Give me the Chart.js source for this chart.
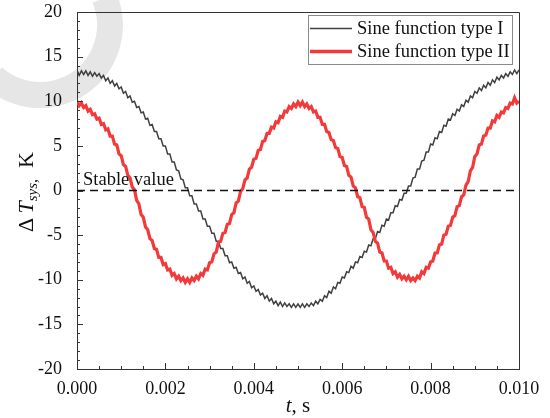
<!DOCTYPE html>
<html>
<head>
<meta charset="utf-8">
<script src="https://cdn.jsdelivr.net/npm/chart.js@4.4.1/dist/chart.umd.min.js"></script>
<style>
  html, body { margin: 0; padding: 0; background: #fff; }
  canvas { display: block; }
</style>
</head>
<body>
<canvas id="chart" width="550" height="418"></canvas>
<script>
// ═══ data ═══
const times = [
    0.00000, 0.00005, 0.00010, 0.00015, 0.00020, 0.00025, 0.00030, 0.00035, 0.00040, 0.00045,
    0.00050, 0.00055, 0.00060, 0.00065, 0.00070, 0.00075, 0.00080, 0.00085, 0.00090, 0.00095,
    0.00100, 0.00105, 0.00110, 0.00115, 0.00120, 0.00125, 0.00130, 0.00135, 0.00140, 0.00145,
    0.00150, 0.00155, 0.00160, 0.00165, 0.00170, 0.00175, 0.00180, 0.00185, 0.00190, 0.00195,
    0.00200, 0.00205, 0.00210, 0.00215, 0.00220, 0.00225, 0.00230, 0.00235, 0.00240, 0.00245,
    0.00250, 0.00255, 0.00260, 0.00265, 0.00270, 0.00275, 0.00280, 0.00285, 0.00290, 0.00295,
    0.00300, 0.00305, 0.00310, 0.00315, 0.00320, 0.00325, 0.00330, 0.00335, 0.00340, 0.00345,
    0.00350, 0.00355, 0.00360, 0.00365, 0.00370, 0.00375, 0.00380, 0.00385, 0.00390, 0.00395,
    0.00400, 0.00405, 0.00410, 0.00415, 0.00420, 0.00425, 0.00430, 0.00435, 0.00440, 0.00445,
    0.00450, 0.00455, 0.00460, 0.00465, 0.00470, 0.00475, 0.00480, 0.00485, 0.00490, 0.00495,
    0.00500, 0.00505, 0.00510, 0.00515, 0.00520, 0.00525, 0.00530, 0.00535, 0.00540, 0.00545,
    0.00550, 0.00555, 0.00560, 0.00565, 0.00570, 0.00575, 0.00580, 0.00585, 0.00590, 0.00595,
    0.00600, 0.00605, 0.00610, 0.00615, 0.00620, 0.00625, 0.00630, 0.00635, 0.00640, 0.00645,
    0.00650, 0.00655, 0.00660, 0.00665, 0.00670, 0.00675, 0.00680, 0.00685, 0.00690, 0.00695,
    0.00700, 0.00705, 0.00710, 0.00715, 0.00720, 0.00725, 0.00730, 0.00735, 0.00740, 0.00745,
    0.00750, 0.00755, 0.00760, 0.00765, 0.00770, 0.00775, 0.00780, 0.00785, 0.00790, 0.00795,
    0.00800, 0.00805, 0.00810, 0.00815, 0.00820, 0.00825, 0.00830, 0.00835, 0.00840, 0.00845,
    0.00850, 0.00855, 0.00860, 0.00865, 0.00870, 0.00875, 0.00880, 0.00885, 0.00890, 0.00895,
    0.00900, 0.00905, 0.00910, 0.00915, 0.00920, 0.00925, 0.00930, 0.00935, 0.00940, 0.00945,
    0.00950, 0.00955, 0.00960, 0.00965, 0.00970, 0.00975, 0.00980, 0.00985, 0.00990, 0.00995,
    0.01000
];

const typeI = [
    13.5, 12.9, 13.4, 13.0, 13.4, 12.9, 13.3, 12.8, 13.2, 12.8,
    13.1, 12.6, 12.9, 12.3, 12.6, 12.0, 12.3, 11.7, 12.0, 11.4,
    11.6, 10.9, 11.1, 10.4, 10.6, 9.9, 10.0, 9.3, 9.4, 8.7,
    8.8, 8.0, 8.1, 7.3, 7.4, 6.6, 6.6, 5.8, 5.8, 5.0,
    5.0, 4.1, 4.1, 3.2, 3.2, 2.3, 2.2, 1.3, 1.2, 0.3,
    0.3, -0.6, -0.6, -1.5, -1.5, -2.3, -2.3, -3.2, -3.2, -4.0,
    -4.0, -4.8, -4.8, -5.7, -5.7, -6.5, -6.5, -7.3, -7.3, -8.1,
    -8.0, -8.7, -8.6, -9.3, -9.2, -9.9, -9.7, -10.4, -10.2, -10.9,
    -10.7, -11.3, -11.1, -11.7, -11.5, -12.1, -11.8, -12.4, -12.1, -12.7,
    -12.4, -12.9, -12.5, -13.0, -12.6, -13.0, -12.7, -13.1, -12.7, -13.1,
    -12.7, -13.1, -12.7, -13.1, -12.7, -13.0, -12.6, -12.9, -12.4, -12.7,
    -12.2, -12.4, -11.8, -12.0, -11.3, -11.5, -10.8, -11.0, -10.3, -10.4,
    -9.7, -9.8, -9.1, -9.2, -8.5, -8.7, -8.0, -8.1, -7.4, -7.5,
    -6.8, -6.9, -6.1, -6.2, -5.4, -5.4, -4.6, -4.7, -3.9, -4.0,
    -3.2, -3.3, -2.5, -2.5, -1.7, -1.8, -1.0, -1.1, -0.3, -0.3,
    0.5, 0.5, 1.4, 1.5, 2.4, 2.4, 3.3, 3.4, 4.3, 4.3,
    5.2, 5.1, 5.9, 5.8, 6.6, 6.5, 7.3, 7.2, 8.0, 7.9,
    8.6, 8.4, 9.1, 8.9, 9.6, 9.4, 10.1, 9.9, 10.6, 10.4,
    11.1, 10.9, 11.5, 11.2, 11.8, 11.5, 12.1, 11.8, 12.4, 12.1,
    12.7, 12.4, 12.9, 12.6, 13.1, 12.8, 13.3, 13.0, 13.5, 13.1,
    13.5
];

const typeII = [
    10.0, 9.5, 9.8, 9.3, 9.5, 8.9, 9.1, 8.5, 8.6, 8.0,
    8.1, 7.4, 7.5, 6.8, 6.9, 6.1, 6.1, 5.2, 5.1, 4.1,
    3.9, 2.9, 2.7, 1.7, 1.4, 0.4, 0.1, -1.1, -1.5, -2.7,
    -3.0, -4.1, -4.4, -5.4, -5.6, -6.5, -6.6, -7.5, -7.5, -8.3,
    -8.2, -8.9, -8.8, -9.5, -9.3, -9.9, -9.6, -10.1, -9.8, -10.3,
    -9.9, -10.3, -9.8, -10.1, -9.6, -9.9, -9.3, -9.5, -8.8, -8.9,
    -8.1, -8.0, -7.1, -6.9, -5.8, -5.7, -4.8, -4.7, -3.8, -3.7,
    -2.7, -2.5, -1.4, -1.2, -0.1, 0.2, 1.2, 1.4, 2.4, 2.6,
    3.5, 3.6, 4.5, 4.6, 5.5, 5.6, 6.4, 6.4, 7.1, 7.0,
    7.7, 7.6, 8.3, 8.2, 8.9, 8.8, 9.4, 9.2, 9.7, 9.4,
    9.9, 9.5, 9.9, 9.4, 9.7, 9.2, 9.4, 8.8, 8.9, 8.2,
    8.2, 7.4, 7.4, 6.6, 6.5, 5.7, 5.6, 4.8, 4.7, 3.8,
    3.7, 2.8, 2.7, 1.7, 1.5, 0.5, 0.3, -0.7, -0.8, -1.8,
    -1.9, -3.0, -3.2, -4.4, -4.7, -5.7, -5.9, -6.9, -7.0, -7.9,
    -7.9, -8.7, -8.6, -9.3, -9.1, -9.7, -9.4, -9.9, -9.6, -10.0,
    -9.6, -10.1, -9.8, -10.1, -9.6, -9.8, -9.1, -9.3, -8.6, -8.7,
    -8.0, -7.9, -7.0, -7.0, -6.1, -6.0, -5.0, -4.9, -4.0, -3.9,
    -3.0, -2.8, -1.8, -1.7, -0.7, -0.5, 0.6, 1.0, 2.2, 2.6,
    3.8, 4.1, 5.1, 5.2, 6.1, 6.2, 7.0, 7.0, 7.8, 7.7,
    8.4, 8.2, 8.8, 8.7, 9.3, 9.2, 9.8, 9.7, 10.4, 9.8,
    10.0
];

const stableTimes = [0.000, 0.010];
const stableValue = [0, 0];

const seriesNames = ['Sine function type I', 'Sine function type II'];
const stableLabel = 'Stable value';

// ═══ styles ═══
const SERIF   = '"Liberation Serif", "Times New Roman", serif';
const GREY    = '#404040';
const RED     = '#f23a3a';
const AXIS    = '#333333';

Chart.defaults.font.family = SERIF;
Chart.defaults.color = '#111';

/**
 * 배경 + 워터마크 (연한 회색 고리)
 */
const backdrop = {
    id: 'backdrop',
    beforeDraw(chart) {
        const ctx = chart.ctx;
        ctx.save();
        ctx.fillStyle = '#fff';
        ctx.fillRect(0, 0, chart.width, chart.height);
        ctx.strokeStyle = '#e6e6e6';
        ctx.lineWidth = 26;
        ctx.beginPath();
        ctx.arc(40, 25, 70, -0.4, 2.3);
        ctx.stroke();
        ctx.restore();
    }
};

/**
 * 테두리, 안쪽 눈금, 축 제목, 범례, 주석
 */
const decorations = {
    id: 'decorations',
    afterDraw(chart) {
        const ctx = chart.ctx;
        const a   = chart.chartArea;
        const xs  = chart.scales.x;
        const ys  = chart.scales.y;

        ctx.save();
        ctx.strokeStyle = AXIS;
        ctx.lineWidth = 1;

        // top + right frame
        ctx.beginPath();
        ctx.moveTo(a.left, a.top + 0.5);
        ctx.lineTo(a.right + 0.5, a.top + 0.5);
        ctx.lineTo(a.right + 0.5, a.bottom);
        ctx.stroke();

        // inward ticks
        ctx.beginPath();
        for (let v = -20; v <= 20; v += 1) {
            const py = Math.round(ys.getPixelForValue(v)) + 0.5;
            const len = v % 5 === 0 ? 6 : 3;
            ctx.moveTo(a.left, py);
            ctx.lineTo(a.left + len, py);
        }
        for (let k = 0; k <= 20; k++) {
            const px = Math.round(xs.getPixelForValue(k * 0.0005)) + 0.5;
            const len = k % 4 === 0 ? 6 : 3;
            ctx.moveTo(px, a.bottom);
            ctx.lineTo(px, a.bottom - len);
        }
        ctx.stroke();

        // x title: t, s
        ctx.fillStyle = '#111';
        ctx.textBaseline = 'alphabetic';
        const midX = (a.left + a.right) / 2;
        ctx.font = 'italic 21px ' + SERIF;
        const wt = ctx.measureText('t').width;
        ctx.font = '21px ' + SERIF;
        const ws = ctx.measureText(', s').width;
        let x0 = midX - (wt + ws) / 2;
        ctx.font = 'italic 21px ' + SERIF;
        ctx.fillText('t', x0, 412);
        ctx.font = '21px ' + SERIF;
        ctx.fillText(', s', x0 + wt, 412);

        // y title: ΔT_sys, K
        ctx.translate(33, 192);
        ctx.rotate(-Math.PI / 2);
        const parts = [
            { t: 'Δ\u2009', f: '22px ' + SERIF, dy: 0 },
            { t: 'T',   f: 'italic 22px ' + SERIF, dy: 0 },
            { t: 'sys', f: 'italic 15px ' + SERIF, dy: 4 },
            { t: ',',   f: '16px ' + SERIF, dy: 4 },
            { t: '  K', f: '22px ' + SERIF, dy: 0 }
        ];
        let total = 0;
        parts.forEach(p => { ctx.font = p.f; p.w = ctx.measureText(p.t).width; total += p.w; });
        let cx = -total / 2;
        parts.forEach(p => {
            ctx.font = p.f;
            ctx.fillText(p.t, cx, p.dy);
            cx += p.w;
        });
        ctx.restore();

        // stable value note
        ctx.save();
        ctx.fillStyle = '#111';
        ctx.font = '18.5px ' + SERIF;
        ctx.textBaseline = 'alphabetic';
        ctx.fillText(stableLabel, 83, 185);

        // legend box
        ctx.strokeStyle = '#8a8a8a';
        ctx.lineWidth = 1;
        ctx.strokeRect(308.5, 15.5, 204, 49);
        ctx.lineCap = 'butt';
        ctx.strokeStyle = GREY;
        ctx.lineWidth = 1.3;
        ctx.beginPath();
        ctx.moveTo(310, 28.5);
        ctx.lineTo(352, 28.5);
        ctx.stroke();
        ctx.strokeStyle = RED;
        ctx.lineWidth = 3.5;
        ctx.beginPath();
        ctx.moveTo(310, 51.5);
        ctx.lineTo(352, 51.5);
        ctx.stroke();
        ctx.textBaseline = 'middle';
        ctx.fillText(seriesNames[0], 357, 29);
        ctx.fillText(seriesNames[1], 357, 52);
        ctx.restore();
    }
};

const ctx = document.getElementById('chart').getContext('2d');

new Chart(ctx, {
    type: 'line',
    data: {
        labels: times,
        datasets: [
            {
                label: seriesNames[0],
                data: typeI,
                borderColor: GREY,
                borderWidth: 1.5,
                pointRadius: 0,
                tension: 0,
                order: 2
            },
            {
                label: seriesNames[1],
                data: typeII,
                borderColor: RED,
                borderWidth: 3.2,
                pointRadius: 0,
                tension: 0,
                order: 1
            },
            {
                label: stableLabel,
                data: stableTimes.map((t, i) => ({ x: t, y: stableValue[i] })),
                borderColor: '#111',
                borderWidth: 1.5,
                borderDash: [8, 5],
                pointRadius: 0,
                order: 0
            }
        ]
    },
    options: {
        responsive: false,
        animation: false,
        devicePixelRatio: 1,
        layout: { padding: { left: 0, top: 12, right: 31, bottom: 0 } },
        plugins: {
            legend: { display: false },
            tooltip: { enabled: false }
        },
        scales: {
            x: {
                type: 'linear',
                min: 0,
                max: 0.01,
                grid: { display: false },
                border: { display: true, color: AXIS, width: 1 },
                ticks: {
                    stepSize: 0.002,
                    padding: 1,
                    maxRotation: 0,
                    font: { size: 18 },
                    color: '#111',
                    callback: v => Number(v).toFixed(3)
                },
                afterFit: s => { s.height = 49; s.paddingLeft = 0; s.paddingRight = 0; }
            },
            y: {
                min: -20,
                max: 20,
                grid: { display: false },
                border: { display: true, color: AXIS, width: 1 },
                ticks: {
                    stepSize: 5,
                    padding: 7,
                    font: { size: 18 },
                    color: '#111',
                    callback: v => String(v)
                },
                afterFit: s => { s.width = 77; s.paddingTop = 0; s.paddingBottom = 0; }
            }
        }
    },
    plugins: [backdrop, decorations]
});
</script>
</body>
</html>
